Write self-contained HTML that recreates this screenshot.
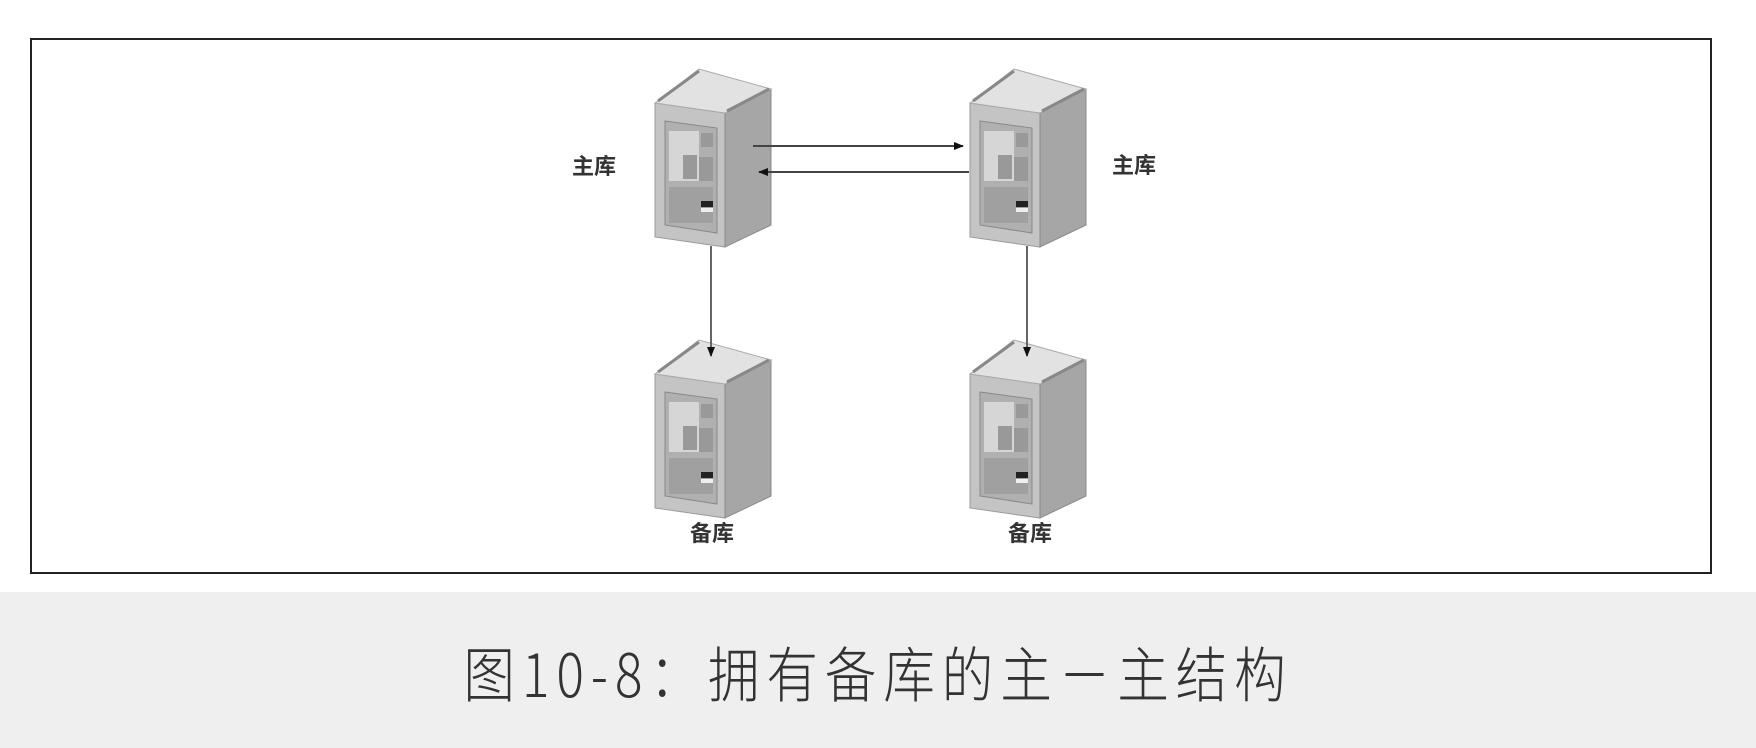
<!DOCTYPE html>
<html><head><meta charset="utf-8"><style>
html,body{margin:0;padding:0;}
body{width:1756px;height:748px;background:#fff;position:relative;overflow:hidden;font-family:"Liberation Sans","Noto Sans CJK SC",sans-serif;}
.box{position:absolute;left:30px;top:38px;width:1682px;height:536px;border:2px solid #222;box-sizing:border-box;background:#fff;}
.cap{position:absolute;left:0;top:592px;width:1756px;height:156px;background:#efefef;}
.cap div{position:absolute;left:0;width:1756px;top:36px;text-align:center;font-size:60px;letter-spacing:8px;color:#333;font-family:"Noto Sans CJK SC",sans-serif;font-weight:300;transform:scaleX(0.86);}
</style></head><body>
<div class="box"></div>
<svg width="1756" height="592" style="position:absolute;left:0;top:0">
<defs>
<g id="srv">
<polygon points="0,38 70,48 70,182 0,172" fill="#c4c4c4" stroke="#9a9a9a"/>
<polygon points="70,48 116,24 116,160 70,182" fill="#a6a6a6" stroke="#8a8a8a"/>
<polygon points="0,38 44,4 116,24 70,48" fill="#e2e2e2" stroke="#aaa"/>
<line x1="3" y1="36" x2="44" y2="6" stroke="#888" stroke-width="3"/>
<line x1="72" y1="46" x2="114" y2="24" stroke="#888" stroke-width="3"/>
<polygon points="10,56 62,63 62,168 10,160" fill="#b0b0b0" stroke="#888"/>
<rect x="14" y="66" width="30" height="50" fill="#d6d6d6"/>
<rect x="46" y="68" width="12" height="14" fill="#999"/>
<rect x="28" y="90" width="14" height="24" fill="#999"/>
<rect x="44" y="92" width="14" height="24" fill="#999"/>
<rect x="14" y="122" width="44" height="36" fill="#a0a0a0"/>
<rect x="46" y="136" width="12" height="6" fill="#222"/>
<rect x="46" y="143" width="12" height="4" fill="#eee"/>
</g>
<marker id="ah" markerWidth="10" markerHeight="10" refX="9" refY="5" orient="auto" markerUnits="userSpaceOnUse"><path d="M0,1 L10,5 L0,9 z" fill="#111"/></marker>
</defs>
<use href="#srv" x="655" y="65"/>
<use href="#srv" x="970" y="65"/>
<use href="#srv" x="655" y="336"/>
<use href="#srv" x="970" y="336"/>
<line x1="753" y1="146" x2="963" y2="146" stroke="#444" stroke-width="2" marker-end="url(#ah)"/>
<line x1="969" y1="172" x2="759" y2="172" stroke="#444" stroke-width="2" marker-end="url(#ah)"/>
<line x1="711" y1="246" x2="711" y2="356" stroke="#666" stroke-width="2" marker-end="url(#ah)"/>
<line x1="1027" y1="246" x2="1027" y2="356" stroke="#666" stroke-width="2" marker-end="url(#ah)"/>
<g font-family="Noto Sans CJK SC,sans-serif" font-size="22" font-weight="bold" fill="#333" text-anchor="middle">
<text x="594" y="174">主库</text>
<text x="1134" y="173">主库</text>
<text x="712" y="541">备库</text>
<text x="1030" y="541">备库</text>
</g>
</svg>
<div class="cap"><div>图10-8：拥有备库的主－主结构</div></div>
</body></html>
